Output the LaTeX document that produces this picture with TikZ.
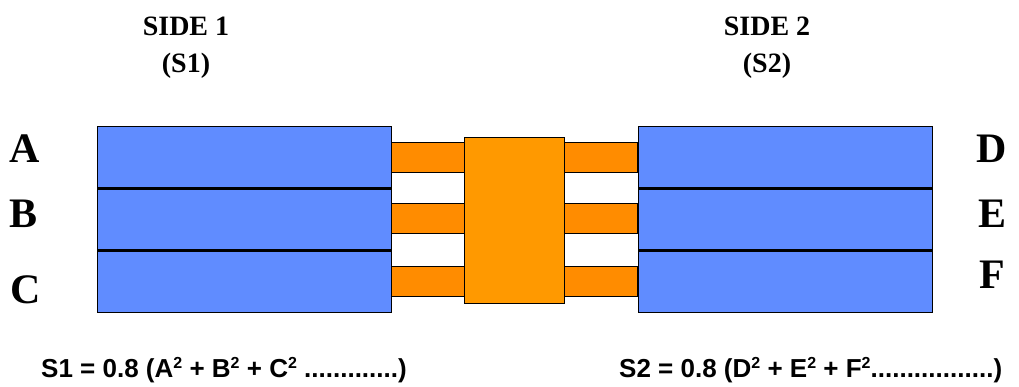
\documentclass[tikz,border=0pt]{standalone}
\usepackage{fontspec}
\setmainfont{Liberation Serif}
\newfontfamily\arialfont{Liberation Sans}
\definecolor{stripblue}{RGB}{96,140,255}
\definecolor{pinorange}{RGB}{255,140,0}
\definecolor{chiporange}{RGB}{255,153,0}
\newcommand{\sqr}{\raisebox{9pt}{\fontsize{16}{16}\selectfont 2}}
\tikzset{
  strip/.style={draw=black, fill=stripblue, minimum width=294pt, minimum height=62pt, inner sep=0pt, anchor=north west},
  pin/.style={draw=black, fill=pinorange, minimum width=73pt, minimum height=30pt, inner sep=0pt},
  chip/.style={draw=black, fill=chiporange, minimum width=100pt, minimum height=166pt, inner sep=0pt},
  divider/.style={black, line width=2.5pt},
  letter/.style={anchor=base, inner sep=0pt, font=\bfseries\fontsize{42}{42}\selectfont},
  side/.style={anchor=base, inner sep=0pt, font=\bfseries\fontsize{28}{28}\selectfont},
  formula/.style={anchor=base west, inner sep=0pt, font=\arialfont\bfseries\fontsize{26}{26}\selectfont}
}
\begin{document}
\begin{tikzpicture}[x=1pt, y=-1pt]
    \useasboundingbox (0,0) rectangle (1019,386);
    % pins and chip
    \node [chip] (chip) at (514,220) {};
    \node [pin, anchor=west] (pinA) at (391,157) {};
    \node [pin, anchor=west] (pinB) at (391,218.5) {};
    \node [pin, anchor=west] (pinC) at (391,281) {};
    \node [pin, anchor=east] (pinD) at (637,157) {};
    \node [pin, anchor=east] (pinE) at (637,218.5) {};
    \node [pin, anchor=east] (pinF) at (637,281) {};
    % side 1
    \node [strip] (stripA) at (97,126) {};
    \node [strip] (stripB) at (97,188) {};
    \node [strip] (stripC) at (97,250) {};
    \draw [divider] (stripA.south west) -- (stripA.south east);
    \draw [divider] (stripB.south west) -- (stripB.south east);
    % side 2
    \node [strip] (stripD) at (638,126) {};
    \node [strip] (stripE) at (638,188) {};
    \node [strip] (stripF) at (638,250) {};
    \draw [divider] (stripD.south west) -- (stripD.south east);
    \draw [divider] (stripE.south west) -- (stripE.south east);
    % labels
    \node [side] (side1) at (186,35) {SIDE 1};
    \node [side] (s1) at (186,72) {(S1)};
    \node [side] (side2) at (767,35) {SIDE 2};
    \node [side] (s2) at (767,72) {(S2)};
    \node [letter] (labA) at (25,162) {A};
    \node [letter] (labB) at (24,227) {B};
    \node [letter] (labC) at (26,303) {C};
    \node [letter] (labD) at (992,162) {D};
    \node [letter] (labE) at (992,227) {E};
    \node [letter] (labF) at (992,288) {F};
    \node [formula] (sum1) at (41,377) {S1 = 0.8 (A\sqr{} + B\sqr{} + C\sqr{} .............)};
    \node [formula] (sum2) at (619,377) {S2 = 0.8 (D\sqr{} + E\sqr{} + F\sqr{}.................)};
  \end{tikzpicture}
\end{document}
